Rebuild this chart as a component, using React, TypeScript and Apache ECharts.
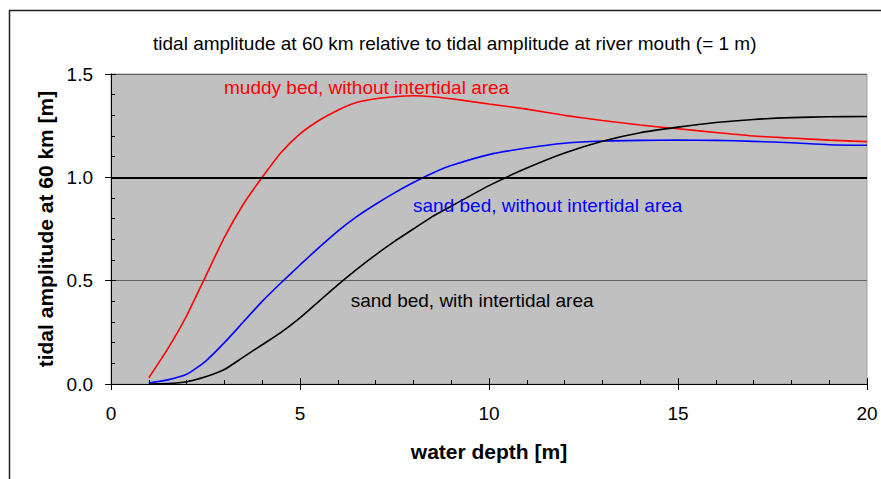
import React, { useEffect, useRef } from "react";
import * as echarts from "echarts";

const depths = [1, 1.5, 2, 2.5, 3, 3.5, 4, 4.5, 5, 5.5, 6, 6.5, 7, 7.5, 8, 8.5, 9, 10, 11, 12, 13, 14, 15, 16, 17, 18, 19, 20];
const muddyNoIntertidal = [0.03, 0.17, 0.33, 0.52, 0.71, 0.87, 1.0, 1.12, 1.21, 1.275, 1.325, 1.362, 1.38, 1.39, 1.395, 1.39, 1.38, 1.355, 1.33, 1.3, 1.275, 1.253, 1.235, 1.217, 1.2, 1.19, 1.18, 1.173];
const sandNoIntertidal = [0.005, 0.02, 0.047, 0.11, 0.2, 0.3, 0.4, 0.49, 0.576, 0.66, 0.74, 0.81, 0.87, 0.925, 0.975, 1.02, 1.057, 1.11, 1.142, 1.165, 1.176, 1.179, 1.18, 1.179, 1.174, 1.167, 1.158, 1.155];
const sandWithIntertidal = [0.0, 0.002, 0.011, 0.035, 0.07, 0.13, 0.19, 0.25, 0.32, 0.4, 0.48, 0.555, 0.625, 0.69, 0.75, 0.81, 0.86, 0.96, 1.045, 1.118, 1.175, 1.216, 1.243, 1.265, 1.28, 1.289, 1.293, 1.294];

const titleText = "tidal amplitude at 60 km relative to tidal amplitude at river mouth (= 1 m)";
const xName = "water depth [m]";
const yName = "tidal amplitude at 60 km [m]";
const seriesNames = ["muddy bed, without intertidal area", "sand bed, without intertidal area", "sand bed, with intertidal area"];
const seriesColors = ["#ff0000", "#0000ff", "#000000"];
// label anchor points in data coordinates [depth, amplitude]
const labelAnchors = [[2.99, 1.437], [7.99, 0.866], [6.34, 0.406]];
const referenceLevel = 1.0;

const FONT = "'Liberation Sans', Arial, sans-serif";

export default function App() {
  const ref = useRef<HTMLDivElement>(null);
  useEffect(() => {
    if (!ref.current) return;
    const chart = echarts.init(ref.current, null, { renderer: "svg" });
    const allData = [muddyNoIntertidal, sandNoIntertidal, sandWithIntertidal];
    const series: any[] = allData.map((vals, i) => ({
      type: "line",
      name: seriesNames[i],
      xAxisIndex: 0,
      yAxisIndex: 0,
      data: depths.map((d, j) => [d, vals[j]]),
      showSymbol: false,
      symbol: "none",
      smooth: 0.2,
      lineStyle: { color: seriesColors[i], width: 1.6 },
      z: 3 + i,
    }));
    series.push({
      type: "line",
      data: [],
      xAxisIndex: 0,
      yAxisIndex: 0,
      markLine: {
        silent: true,
        symbol: "none",
        label: { show: false },
        lineStyle: { color: "#000", width: 2, type: "solid" },
        data: [{ yAxis: referenceLevel }],
      },
      z: 2,
    });
    const axisLabelStyle = { color: "#000", fontSize: 19, fontFamily: FONT };
    chart.setOption({
      animation: false,
      backgroundColor: "#fff",
      title: {
        text: titleText,
        left: 148,
        top: 29,
        textStyle: { fontSize: 19, fontWeight: "normal", color: "#000", fontFamily: FONT },
      },
      grid: {
        left: 111,
        top: 74,
        right: 14,
        bottom: 95,
        show: true,
        backgroundColor: "#c0c0c0",
        borderColor: "#a0a0a0",
        borderWidth: 1,
      },
      xAxis: [
        {
          type: "value",
          min: 0,
          max: 20,
          interval: 5,
          position: "bottom",
          axisLine: { show: true, onZero: false, lineStyle: { color: "#000", width: 1 } },
          axisTick: { show: true, inside: false, length: 6, lineStyle: { color: "#000" } },
          axisLabel: { ...axisLabelStyle, margin: 20 },
          splitLine: { show: false },
          name: xName,
          nameLocation: "middle",
          nameGap: 57,
          nameTextStyle: { fontSize: 21, fontWeight: "bold", color: "#000", fontFamily: FONT },
        },
        {
          type: "value",
          min: 0,
          max: 20,
          interval: 5,
          position: "bottom",
          axisLine: { show: false, onZero: false },
          axisTick: { show: true, inside: true, length: 6, lineStyle: { color: "#000" } },
          minorTick: { show: true, splitNumber: 5, length: 4, lineStyle: { color: "#000" } },
          axisLabel: { show: false },
          splitLine: { show: false },
        },
      ],
      yAxis: [
        {
          type: "value",
          min: 0,
          max: 1.5,
          interval: 0.5,
          position: "left",
          axisLine: { show: true, onZero: false, lineStyle: { color: "#000", width: 1 } },
          axisTick: { show: true, inside: false, length: 6, lineStyle: { color: "#000" } },
          axisLabel: { ...axisLabelStyle, margin: 18, formatter: (v: number) => v.toFixed(1) },
          splitLine: { show: true, lineStyle: { color: "#606060", width: 1 } },
          name: yName,
          nameLocation: "middle",
          nameGap: 55,
          nameTextStyle: { fontSize: 21, fontWeight: "bold", color: "#000", fontFamily: FONT },
        },
        {
          type: "value",
          min: 0,
          max: 1.5,
          interval: 0.5,
          position: "left",
          axisLine: { show: false, onZero: false },
          axisTick: { show: true, inside: true, length: 5, lineStyle: { color: "#000" } },
          minorTick: { show: true, splitNumber: 5, length: 4, lineStyle: { color: "#000" } },
          axisLabel: { show: false },
          splitLine: { show: false },
        },
      ],
      series,
    });
    const texts = labelAnchors.map((a, i) => {
      const p = chart.convertToPixel({ gridIndex: 0 }, a) as number[];
      return {
        type: "text",
        x: p[0],
        y: p[1],
        z: 10,
        style: {
          text: seriesNames[i],
          fill: seriesColors[i],
          fontSize: 19,
          fontFamily: FONT,
          textAlign: "left",
          textVerticalAlign: "middle",
        },
      };
    });
    chart.setOption({
      graphic: [
        {
          type: "polyline",
          shape: { points: [[9.5, 479], [9.5, 10.5], [881, 10.5]] },
          style: { stroke: "#222", lineWidth: 1.5, fill: "none" },
          z: 10,
        },
        ...texts,
      ],
    });
    return () => chart.dispose();
  }, []);
  return <div ref={ref} style={{ position: "fixed", left: 0, top: 0, width: 881, height: 479 }} />;
}
